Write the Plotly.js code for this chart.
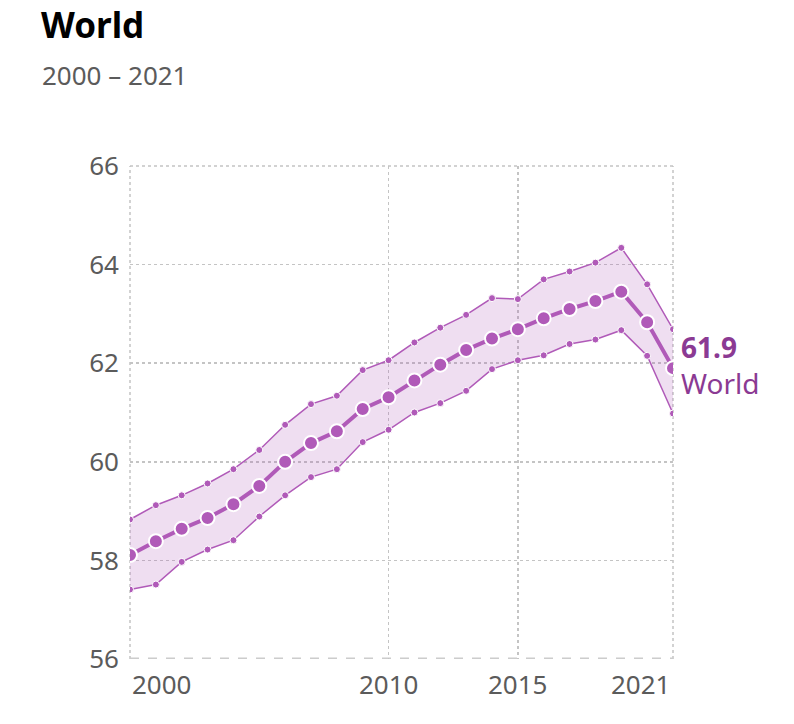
<!DOCTYPE html>
<html>
<head>
<meta charset="utf-8">
<script src="https://cdn.plot.ly/plotly-3.0.1.min.js"></script>
<style>
  body { margin: 0; background: #fff; }
  #plot { width: 794px; height: 724px; }
</style>
</head>
<body>
<div id="plot"></div>
<script>
// Data
var years = [2000, 2001, 2002, 2003, 2004, 2005, 2006, 2007, 2008, 2009, 2010,
             2011, 2012, 2013, 2014, 2015, 2016, 2017, 2018, 2019, 2020, 2021];
var central = [58.11, 58.39, 58.64, 58.86, 59.14, 59.51, 60.00, 60.38, 60.62, 61.07, 61.31,
               61.65, 61.97, 62.27, 62.50, 62.69, 62.91, 63.10, 63.26, 63.45, 62.83, 61.90];
var upper = [58.83, 59.12, 59.32, 59.56, 59.85, 60.24, 60.75, 61.17, 61.34, 61.86, 62.06,
             62.42, 62.72, 62.98, 63.32, 63.30, 63.70, 63.86, 64.04, 64.34, 63.60, 62.69];
var lower = [57.41, 57.51, 57.97, 58.22, 58.41, 58.89, 59.32, 59.69, 59.85, 60.40, 60.65,
             61.00, 61.19, 61.44, 61.88, 62.06, 62.16, 62.39, 62.48, 62.67, 62.15, 60.98];
var xTicks = [2000, 2010, 2015, 2021];
var yTicks = [56, 58, 60, 62, 64, 66];
var seriesName = "World";

var purple = "#b05ab8";
var labelPurple = "#8b3a93";
var grey = "#5b5b5b";
var gridGrey = "#c4c4c4";
var font = "Noto Sans, Open Sans, sans-serif";

var traceLower = {
  x: years,
  y: lower,
  mode: "lines+markers",
  line: {color: purple, width: 1.5},
  marker: {color: purple, size: 7, line: {color: "#fff", width: 1}},
  hoverinfo: "skip",
  showlegend: false
};

var traceUpper = {
  x: years,
  y: upper,
  mode: "lines+markers",
  fill: "tonexty",
  fillcolor: "rgba(176,90,184,0.2)",
  line: {color: purple, width: 1.5},
  marker: {color: purple, size: 7, line: {color: "#fff", width: 1}},
  hoverinfo: "skip",
  showlegend: false
};

var traceCentral = {
  x: years,
  y: central,
  name: seriesName,
  mode: "lines+markers",
  line: {color: purple, width: 4},
  marker: {color: purple, size: 14, line: {color: "#fff", width: 2}},
  showlegend: false
};

var data = [traceLower, traceUpper, traceCentral];

// x tick labels: first left-aligned, last right-aligned, others centred
var tickAnnotations = xTicks.map(function (t, i) {
  return {
    x: t, xref: "x", y: 0, yref: "paper",
    yanchor: "top", yshift: -5,
    xanchor: i === 0 ? "left" : (i === xTicks.length - 1 ? "right" : "center"),
    text: String(t), showarrow: false,
    font: {family: font, size: 26, color: grey}
  };
});

var last = central.length - 1;

// dotted frame lines at the plot edges (plotly drops gridlines there)
function edge(xref, x0, x1, yref, y0, y1) {
  return {type: "line", xref: xref, x0: x0, x1: x1, yref: yref, y0: y0, y1: y1,
          line: {color: gridGrey, width: 1.5, dash: "dot"}, layer: "below"};
}

var layout = {
  width: 794,
  height: 724,
  margin: {l: 130, r: 121, t: 166, b: 65},
  paper_bgcolor: "#fff",
  plot_bgcolor: "#fff",
  font: {family: font, color: grey},
  xaxis: {
    range: [years[0], years[last]],
    tickvals: xTicks,
    showticklabels: false,
    showgrid: true,
    gridcolor: gridGrey,
    griddash: "dot",
    gridwidth: 1.5,
    zeroline: false,
    showline: false,
    fixedrange: true
  },
  yaxis: {
    range: [yTicks[0], yTicks[yTicks.length - 1]],
    tickvals: yTicks,
    ticks: "",
    ticklabelstandoff: 10,
    tickfont: {family: font, size: 26, color: grey},
    showgrid: true,
    gridcolor: gridGrey,
    griddash: "dot",
    gridwidth: 1.5,
    zeroline: false,
    showline: false,
    fixedrange: true
  },
  shapes: [
    edge("paper", 0, 0, "paper", 0, 1),
    edge("paper", 1, 1, "paper", 0, 1),
    edge("paper", 0, 1, "paper", 1, 1),
    {
      type: "line", xref: "paper", x0: 0, x1: 1,
      yref: "y", y0: yTicks[0], y1: yTicks[0],
      line: {color: "#cccccc", width: 3, dash: "dash"},
      layer: "below"
    }
  ],
  annotations: tickAnnotations.concat([
    {
      xref: "paper", yref: "paper", x: -0.1657, y: 1.3367,
      xanchor: "left", yanchor: "top", borderpad: 0,
      text: "<b>World</b>", showarrow: false,
      font: {family: font, size: 35, color: "#000"}
    },
    {
      xref: "paper", yref: "paper", x: -0.1657, y: 1.1846,
      xanchor: "left", yanchor: "middle",
      text: years[0] + " \u2013 " + years[last], showarrow: false,
      font: {family: font, size: 26, color: grey}
    },
    {
      x: years[last], xref: "x", y: central[last], yref: "y",
      xanchor: "left", yanchor: "middle", xshift: 6, yshift: 3,
      align: "left",
      text: "<b>" + central[last].toFixed(1) + "</b><br>" + seriesName,
      showarrow: false,
      font: {family: font, size: 28, color: labelPurple}
    }
  ])
};

Plotly.newPlot("plot", data, layout, {displayModeBar: false, staticPlot: true});
</script>
</body>
</html>
